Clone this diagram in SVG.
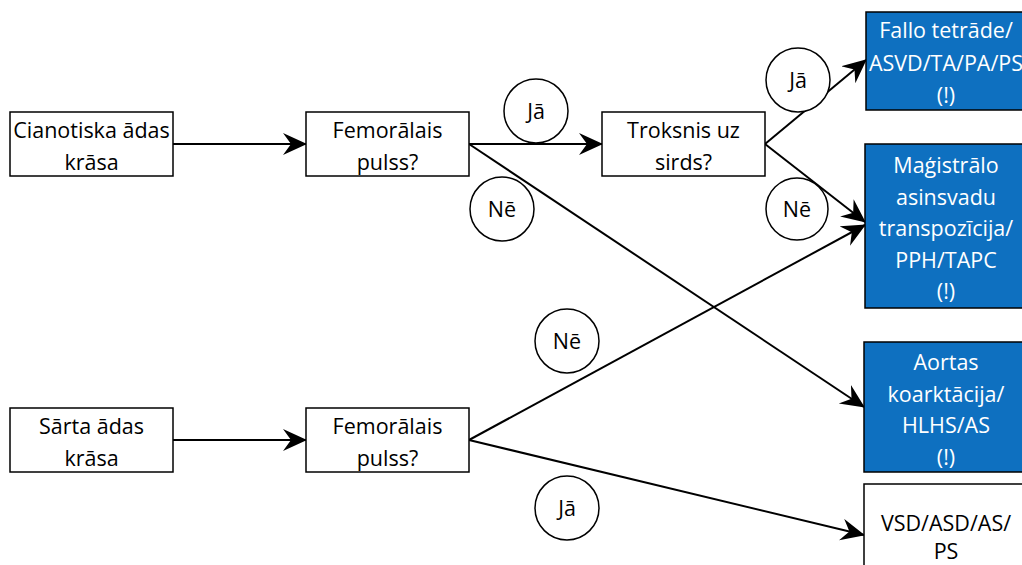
<svg xmlns="http://www.w3.org/2000/svg" width="1022" height="565" viewBox="0 0 1022 565">
<defs>
<marker id="arr" markerWidth="26" markerHeight="24" refX="23" refY="11" orient="auto" markerUnits="userSpaceOnUse">
<path d="M0,0 L24,11 L0,22 L8,11 z" fill="#000"/>
</marker>
<style>
.box{fill:#fff;stroke:#000;stroke-width:1.5}
.blue{fill:#0E70C0;stroke:#000;stroke-width:1.5}
.t{font-family:"Open Sans","Noto Sans",sans-serif;font-size:21.5px;fill:#000;text-anchor:middle}
.w{fill:#fff}
.c{fill:#fff;stroke:#000;stroke-width:1.5}
.ln{stroke:#000;stroke-width:2;fill:none;marker-end:url(#arr)}
</style>
</defs>
<rect width="1022" height="565" fill="#fff"/>
<g id="connectors">
<line class="ln" x1="173" y1="144" x2="306" y2="144"/>
<line class="ln" x1="469" y1="144" x2="602" y2="144"/>
<line class="ln" x1="469" y1="144" x2="864" y2="407"/>
<line class="ln" x1="765" y1="144" x2="866" y2="60"/>
<line class="ln" x1="765" y1="144" x2="865" y2="222"/>
<line class="ln" x1="173" y1="440" x2="306" y2="440"/>
<line class="ln" x1="469" y1="440" x2="865" y2="225"/>
<line class="ln" x1="469" y1="440" x2="864" y2="535"/>
</g>
<g id="n-cian"><rect class="box" x="10" y="112" width="163" height="64"/><text class="t" x="91.5" y="138">Cianotiska ādas</text><text class="t" x="91.5" y="170">krāsa</text></g>
<g id="n-fem1"><rect class="box" x="306" y="112" width="163" height="64"/><text class="t" x="387.5" y="138">Femorālais</text><text class="t" x="387.5" y="170">pulss?</text></g>
<g id="n-trok"><rect class="box" x="602" y="112" width="163" height="64"/><text class="t" x="683.5" y="138">Troksnis uz</text><text class="t" x="683.5" y="170">sirds?</text></g>
<g id="n-sarta"><rect class="box" x="10" y="408" width="163" height="64"/><text class="t" x="91.5" y="434">Sārta ādas</text><text class="t" x="91.5" y="466">krāsa</text></g>
<g id="n-fem2"><rect class="box" x="306" y="408" width="163" height="64"/><text class="t" x="387.5" y="434">Femorālais</text><text class="t" x="387.5" y="466">pulss?</text></g>
<g id="n-fallo"><rect class="blue" x="866" y="12" width="162" height="98"/><text class="t w" x="946" y="38">Fallo tetrāde/</text><text class="t w" x="946" y="71">ASVD/TA/PA/PS</text><text class="t w" x="946" y="103">(!)</text></g>
<g id="n-magi"><rect class="blue" x="865" y="144" width="162" height="164"/><text class="t w" x="946" y="173">Maģistrālo</text><text class="t w" x="946" y="205">asinsvadu</text><text class="t w" x="946" y="236">transpozīcija/</text><text class="t w" x="946" y="268">PPH/TAPC</text><text class="t w" x="946" y="299">(!)</text></g>
<g id="n-aort"><rect class="blue" x="864" y="342" width="163" height="130"/><text class="t w" x="946" y="370">Aortas</text><text class="t w" x="946" y="402">koarktācija/</text><text class="t w" x="946" y="433">HLHS/AS</text><text class="t w" x="946" y="465">(!)</text></g>
<g id="n-vsd"><rect class="box" x="864" y="484" width="163" height="90"/><text class="t" x="946" y="531">VSD/ASD/AS/</text><text class="t" x="946" y="559">PS</text></g>
<g id="l-ja1"><circle class="c" cx="536" cy="111" r="32"/><text class="t" x="536" y="119">Jā</text></g>
<g id="l-ne1"><circle class="c" cx="502" cy="209" r="32"/><text class="t" x="502" y="217">Nē</text></g>
<g id="l-ja2"><circle class="c" cx="798" cy="80" r="32"/><text class="t" x="798" y="88">Jā</text></g>
<g id="l-ne2"><circle class="c" cx="797" cy="209" r="31"/><text class="t" x="797" y="217">Nē</text></g>
<g id="l-ne3"><circle class="c" cx="567" cy="341" r="32"/><text class="t" x="567" y="349">Nē</text></g>
<g id="l-ja3"><circle class="c" cx="567" cy="508" r="32"/><text class="t" x="567" y="516">Jā</text></g>
</svg>
